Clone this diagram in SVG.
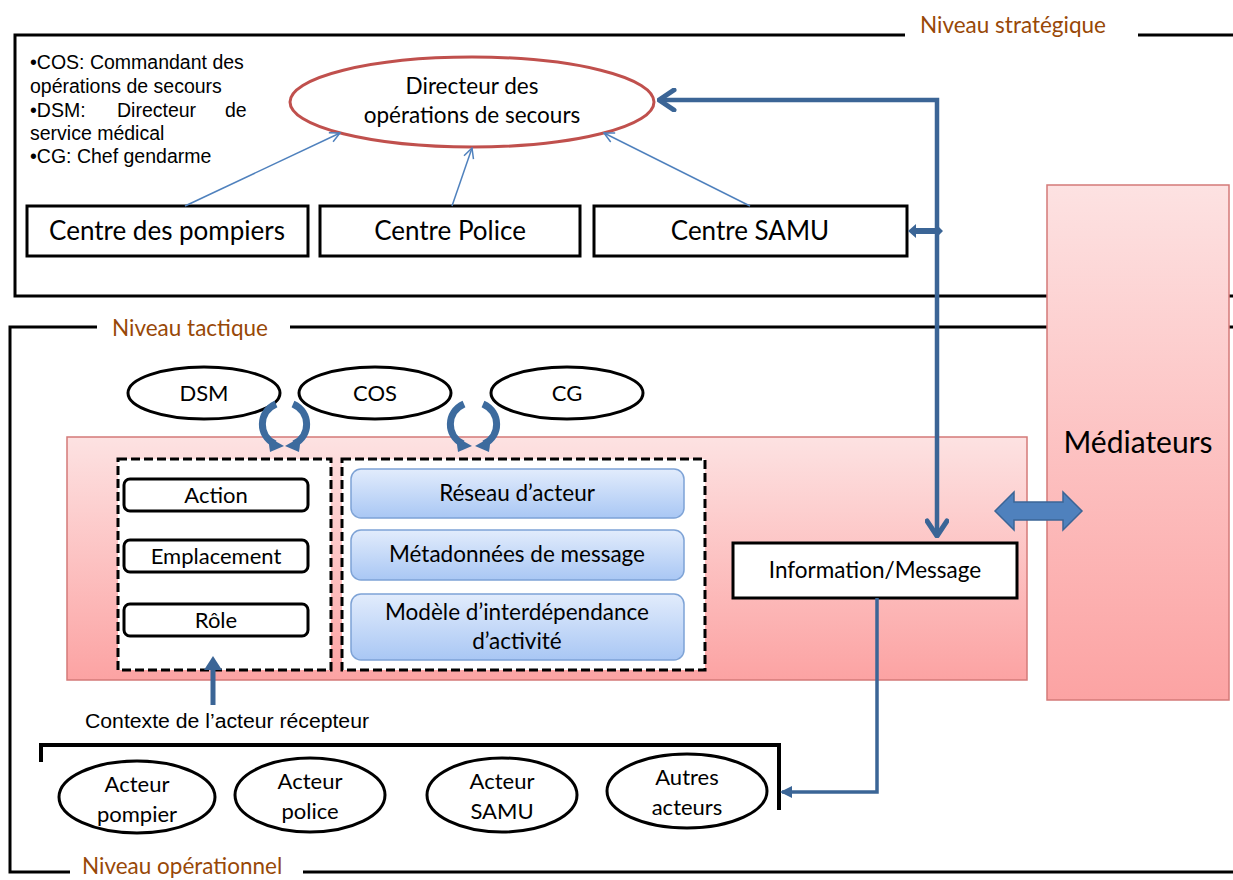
<svg xmlns="http://www.w3.org/2000/svg" width="1233" height="880" viewBox="0 0 1233 880">
<defs>
<linearGradient id="pink" x1="0" y1="0" x2="0" y2="1">
<stop offset="0" stop-color="#fde2e2"/><stop offset="1" stop-color="#fca3a3"/>
</linearGradient>
<linearGradient id="blue" x1="0" y1="0" x2="0" y2="1">
<stop offset="0" stop-color="#e2ecfc"/><stop offset="1" stop-color="#a9c7f4"/>
</linearGradient>
<marker id="thin" viewBox="0 0 12 12" refX="11" refY="6" markerWidth="12" markerHeight="12" markerUnits="userSpaceOnUse" orient="auto">
<path d="M1 1 L11 6 L1 11" fill="none" stroke="#4f81bd" stroke-width="1.5"/>
</marker>
<marker id="chev" viewBox="0 0 20 24" refX="18" refY="12" markerWidth="20" markerHeight="24" markerUnits="userSpaceOnUse" orient="auto-start-reverse">
<path d="M3 2 L18 12 L3 22" fill="none" stroke="#3b6596" stroke-width="5" stroke-linecap="round" stroke-linejoin="round"/>
</marker>
<marker id="tri" viewBox="0 0 12 12" refX="10" refY="6" markerWidth="12" markerHeight="12" markerUnits="userSpaceOnUse" orient="auto">
<path d="M0 0 L12 6 L0 12 Z" fill="#3b6596"/>
</marker>
<style>
.frame{fill:none;stroke:#000;stroke-width:3}
.lvl{font-family:Lato,"Liberation Sans",sans-serif;font-size:22.5px;fill:#984807}
.cal{font-family:Lato,"Liberation Sans",sans-serif;fill:#000;text-anchor:middle}
.ar{font-family:"Liberation Sans",Arial,sans-serif;font-size:19.5px;fill:#000}
.box{fill:#fff;stroke:#000;stroke-width:3}
.rbox{fill:#fff;stroke:#000;stroke-width:3}
.bbox{fill:url(#blue);stroke:#7ea3d6;stroke-width:1.5}
.dash{fill:#fff;stroke:#000;stroke-width:3;stroke-dasharray:9 4}
.ell{fill:#fff;stroke:#000;stroke-width:3}
.curv{fill:none;stroke:#3d6b9e;stroke-width:7}
.thinl{fill:none;stroke:#4f81bd;stroke-width:1.5}
</style>
</defs>
<rect width="1233" height="880" fill="#fff"/>

<g id="frames">
<path class="frame" d="M905 35 H15 V296 H1233"/>
<path class="frame" d="M1138 35 H1233"/>
<text class="lvl" x="920" y="33">Niveau stratégique</text>
<path class="frame" d="M97 327 H10 V872 H70"/>
<path class="frame" d="M290 327 H1233"/>
<text class="lvl" x="112" y="336">Niveau tactique</text>
<path class="frame" d="M303 872 H1233"/>
<text class="lvl" x="82" y="874" font-size="22">Niveau opérationnel</text>
</g>

<g id="legend">
<text class="ar" x="30" y="69">•COS: Commandant des</text>
<text class="ar" x="30" y="93">opérations de secours</text>
<text class="ar" x="30" y="117">•DSM:</text>
<text class="ar" x="117" y="117">Directeur</text>
<text class="ar" x="225" y="117">de</text>
<text class="ar" x="30" y="140">service  médical</text>
<text class="ar" x="30" y="163">•CG: Chef gendarme</text>
</g>

<g id="directeur">
<ellipse cx="472" cy="102" rx="182" ry="45" fill="#fff" stroke="#c0504d" stroke-width="3"/>
<text class="cal" x="472" y="94" font-size="22.5">Directeur des</text>
<text class="cal" x="472" y="123" font-size="22.5">opérations de secours</text>
</g>

<g id="centre-pompiers">
<rect class="box" x="27" y="206" width="281" height="50"/>
<text class="cal" x="167" y="240" font-size="26">Centre des pompiers</text>
</g>
<g id="centre-police">
<rect class="box" x="320" y="206" width="260" height="50"/>
<text class="cal" x="450" y="240" font-size="26">Centre Police</text>
</g>
<g id="centre-samu">
<rect class="box" x="594" y="206" width="313" height="50"/>
<text class="cal" x="750" y="240" font-size="26">Centre SAMU</text>
</g>

<g id="mediateurs">
<rect x="1047" y="185" width="182" height="515" fill="url(#pink)" stroke="#d47a78" stroke-width="1.5"/>
<text class="cal" x="1138" y="453" font-size="30">Médiateurs</text>
</g>

<g id="tactique">
<rect x="67" y="437" width="960" height="243" fill="url(#pink)" stroke="#d47a78" stroke-width="1.5"/>
</g>

<g id="dsm"><ellipse class="ell" cx="204" cy="393" rx="76" ry="26"/><text class="cal" x="204" y="401" font-size="22">DSM</text></g>
<g id="cos"><ellipse class="ell" cx="375" cy="393" rx="76" ry="26"/><text class="cal" x="375" y="401" font-size="22">COS</text></g>
<g id="cg"><ellipse class="ell" cx="567" cy="393" rx="76" ry="26"/><text class="cal" x="567" y="401" font-size="22">CG</text></g>

<g id="contexte">
<rect class="dash" x="118" y="459" width="213" height="211"/>
<rect class="rbox" x="124" y="479" width="184" height="32" rx="6"/>
<text class="cal" x="216" y="503" font-size="22">Action</text>
<rect class="rbox" x="124" y="540" width="184" height="32" rx="6"/>
<text class="cal" x="216" y="564" font-size="22">Emplacement</text>
<rect class="rbox" x="124" y="604" width="184" height="32" rx="6"/>
<text class="cal" x="216" y="628" font-size="22">Rôle</text>
</g>

<g id="modeles">
<rect class="dash" x="342" y="459" width="363" height="211"/>
<rect class="bbox" x="351" y="469" width="333" height="49" rx="10"/>
<text class="cal" x="517" y="501" font-size="22.5">Réseau d’acteur</text>
<rect class="bbox" x="351" y="530" width="333" height="50" rx="10"/>
<text class="cal" x="517" y="562" font-size="22.5">Métadonnées de message</text>
<rect class="bbox" x="351" y="594" width="333" height="66" rx="10"/>
<text class="cal" x="517" y="620" font-size="22.5">Modèle d’interdépendance</text>
<text class="cal" x="517" y="649" font-size="22.5">d’activité</text>
</g>

<g id="information">
<rect class="box" x="733" y="543" width="284" height="55"/>
<text class="cal" x="875" y="578" font-size="22.5">Information/Message</text>
</g>

<g id="contexte-label">
<text class="ar" x="85" y="728" font-size="22" textLength="284" lengthAdjust="spacingAndGlyphs">Contexte de l’acteur récepteur</text>
</g>

<g id="operationnel">
<path d="M41 762 V745 H779 V810" fill="none" stroke="#000" stroke-width="4"/>
</g>
<g id="acteur-pompier"><ellipse class="ell" cx="137" cy="797" rx="78" ry="36"/><text class="cal" x="137" y="792" font-size="22">Acteur</text><text class="cal" x="137" y="822" font-size="22">pompier</text></g>
<g id="acteur-police"><ellipse class="ell" cx="310" cy="795" rx="75" ry="37"/><text class="cal" x="310" y="789" font-size="22">Acteur</text><text class="cal" x="310" y="819" font-size="22">police</text></g>
<g id="acteur-samu"><ellipse class="ell" cx="502" cy="795" rx="75" ry="37"/><text class="cal" x="502" y="789" font-size="22">Acteur</text><text class="cal" x="502" y="819" font-size="22">SAMU</text></g>
<g id="autres-acteurs"><ellipse class="ell" cx="687" cy="791" rx="80" ry="37"/><text class="cal" x="687" y="785" font-size="22">Autres</text><text class="cal" x="687" y="815" font-size="22">acteurs</text></g>

<g id="connectors">
<path class="thinl" d="M185 206 L340 133" marker-end="url(#thin)"/>
<path class="thinl" d="M452 206 L472 148" marker-end="url(#thin)"/>
<path class="thinl" d="M750 206 L604 133" marker-end="url(#thin)"/>
<path d="M659 100 H937 V536" fill="none" stroke="#3b6596" stroke-width="4.5" marker-start="url(#chev)" marker-end="url(#chev)"/>
<polygon points="908,231 916,224 916,228 936,228 936,224 943,231 936,238 936,234 916,234 916,238" fill="#3b6596"/>
<path d="M877 598 V792 H782" fill="none" stroke="#3b6596" stroke-width="3.5" marker-end="url(#tri)"/>
<path d="M213 705 V668" fill="none" stroke="#3b6596" stroke-width="5"/>
<polygon points="204,670 213,656 222,670" fill="#3b6596"/>
<polygon points="995,511 1014,492 1014,502 1063,502 1063,492 1082,511 1063,530 1063,520 1014,520 1014,530" fill="#4f81bd" stroke="#3b6596" stroke-width="1.5"/>
<path class="curv" d="M276 404 C258 412 258 436 275 444"/>
<polygon points="268,437 284,446 270,452" fill="#3d6b9e"/>
<path class="curv" d="M293 404 C311 412 311 436 294 444"/>
<polygon points="301,437 285,446 299,452" fill="#3d6b9e"/>
<path class="curv" d="M464 404 C446 412 446 436 463 444"/>
<polygon points="456,437 472,446 458,452" fill="#3d6b9e"/>
<path class="curv" d="M483 404 C501 412 501 436 484 444"/>
<polygon points="491,437 475,446 489,452" fill="#3d6b9e"/>
</g>
</svg>
